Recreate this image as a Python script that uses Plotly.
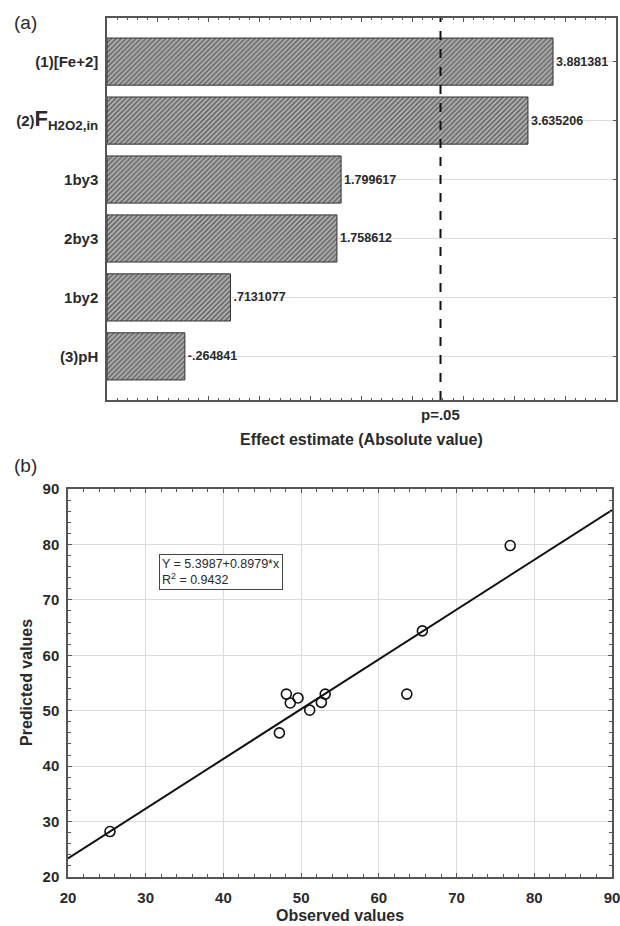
import plotly.graph_objects as go

# ---- Data: (a) Pareto chart of standardized effects ----
effect_labels = [
    "<b>(1)[Fe+2]</b>",
    "<b>(2)<span style='font-size:22px'>F</span><span style='font-size:19px'><sub>H2O2,in</sub></span></b>",
    "<b>1by3</b>",
    "<b>2by3</b>",
    "<b>1by2</b>",
    "<b>(3)pH</b>",
]
effect_values = [3.881381, 3.635206, 1.799617, 1.758612, 0.7131077, -0.264841]
effect_text = ["3.881381", "3.635206", "1.799617", "1.758612", ".7131077", "-.264841"]
p_crit = 2.776
x_min_a, x_max_a = -0.5, 4.5

# ---- Data: (b) observed vs predicted ----
observed = [25.4, 47.2, 48.1, 48.6, 49.6, 51.1, 52.6, 53.1, 63.6, 65.6, 76.9]
predicted = [28.2, 46.0, 53.0, 51.4, 52.3, 50.1, 51.5, 53.0, 53.0, 64.4, 79.8]
fit_intercept, fit_slope = 5.3987, 0.8979
fit_x = [20, 90]

FONT = "Liberation Sans, Arial, sans-serif"
TXT = "#2a2a2a"
AX = "#555555"

fig = go.Figure()

cats = list(range(len(effect_values)))
fig.add_trace(go.Bar(
    y=cats,
    x=[abs(v) - x_min_a for v in effect_values],
    base=x_min_a,
    orientation="h",
    width=0.8,
    marker=dict(
        color="#b0b0b0",
        line=dict(color="#333333", width=1),
        pattern=dict(shape="/", fgcolor="#1e1e1e", bgcolor="#b4b4b4", size=3.5, solidity=0.5),
    ),
    text=effect_text,
    textposition="outside",
    textfont=dict(family=FONT, size=12.5, color=TXT, weight="bold"),
    cliponaxis=False,
    xaxis="x", yaxis="y",
    showlegend=False,
))

fig.add_trace(go.Scatter(
    x=fit_x,
    y=[fit_intercept + fit_slope * v for v in fit_x],
    mode="lines",
    line=dict(color="#111111", width=2),
    xaxis="x2", yaxis="y2",
    showlegend=False,
))
fig.add_trace(go.Scatter(
    x=observed, y=predicted,
    mode="markers",
    marker=dict(symbol="circle-open", size=10, color="#111111", line=dict(width=1.6)),
    xaxis="x2", yaxis="y2",
    showlegend=False,
))

W, H = 620, 926
def px_x(a, b):
    return [a / W, b / W]
def px_y(top, bottom):
    return [1 - bottom / H, 1 - top / H]

fig.update_layout(
    width=W, height=H,
    margin=dict(l=0, r=0, t=0, b=0, autoexpand=False),
    paper_bgcolor="white", plot_bgcolor="white",
    font=dict(family=FONT, color=TXT),
    bargap=0.2,
    xaxis=dict(
        domain=px_x(107, 616), anchor="y", automargin=False,
        range=[x_min_a, x_max_a], showticklabels=False, showgrid=False, zeroline=False,
        showline=True, linecolor=AX, linewidth=1.5, mirror="ticks",
        ticks="inside", dtick=0.5, ticklen=4, tickcolor=AX,
        minor=dict(ticks="inside", dtick=0.1, ticklen=2, tickcolor=AX),
    ),
    yaxis=dict(
        domain=px_y(18, 400), anchor="x", automargin=False,
        range=[5.74, -0.74],
        tickvals=cats, ticktext=effect_labels,
        tickfont=dict(family=FONT, size=15, color=TXT),
        showgrid=True, gridcolor="#dedede", gridwidth=1, zeroline=False,
        showline=True, linecolor=AX, linewidth=1.5, mirror="ticks",
        ticks="inside", ticklen=3, tickcolor=AX,
        ticklabelstandoff=4, ticklabeloverflow="allow",
    ),
    xaxis2=dict(
        domain=px_x(68, 612), anchor="y2", automargin=False,
        range=[20, 90], dtick=10,
        tickfont=dict(family=FONT, size=15, color=TXT, weight="bold"),
        showgrid=True, gridcolor="#dcdcdc", gridwidth=1, zeroline=False,
        showline=True, linecolor=AX, linewidth=1.5, mirror="ticks",
        ticks="inside", ticklen=4, tickcolor=AX,
        minor=dict(ticks="inside", dtick=2, ticklen=3, tickcolor=AX),
        ticklabelstandoff=6, ticklabeloverflow="allow",
    ),
    yaxis2=dict(
        domain=px_y(489, 877), anchor="x2", automargin=False,
        range=[20, 90], dtick=10,
        tickfont=dict(family=FONT, size=15, color=TXT, weight="bold"),
        showgrid=True, gridcolor="#dcdcdc", gridwidth=1, zeroline=False,
        showline=True, linecolor=AX, linewidth=1.5, mirror="ticks",
        ticks="inside", ticklen=4, tickcolor=AX,
        minor=dict(ticks="inside", dtick=2, ticklen=3, tickcolor=AX),
        ticklabelstandoff=4, ticklabeloverflow="allow",
    ),
)

fig.add_shape(type="line", xref="x", yref="y domain",
              x0=p_crit, x1=p_crit, y0=0, y1=1,
              line=dict(color="#111111", width=2, dash="dash"))

ann = []
ann.append(dict(x=p_crit, xref="x", y=1 - 415 / H, yref="paper", yanchor="middle",
                text="<b>p=.05</b>", showarrow=False, font=dict(size=15, color=TXT)))
ann.append(dict(x=(107 + 616) / 2 / W, xref="paper", y=1 - 439 / H, yref="paper", yanchor="middle",
                text="<b>Effect estimate (Absolute value)</b>", showarrow=False,
                font=dict(size=16, color=TXT)))
ann.append(dict(x=12 / W, xref="paper", xanchor="left", y=1 - 22 / H, yref="paper", yanchor="middle",
                text="(a)", showarrow=False, font=dict(size=19, color=TXT)))
ann.append(dict(x=12 / W, xref="paper", xanchor="left", y=1 - 465 / H, yref="paper", yanchor="middle",
                text="(b)", showarrow=False, font=dict(size=19, color=TXT)))
ann.append(dict(x=(68 + 612) / 2 / W, xref="paper", y=1 - 915 / H, yref="paper", yanchor="middle",
                text="<b>Observed values</b>", showarrow=False, font=dict(size=16, color=TXT)))
ann.append(dict(x=26 / W, xref="paper", y=1 - 683 / H, yref="paper", xanchor="center", yanchor="middle",
                text="<b>Predicted values</b>", textangle=-90, showarrow=False,
                font=dict(size=16, color=TXT)))
ann.append(dict(x=31.7, xref="x2", xanchor="left", y=78.2, yref="y2", yanchor="top",
                text="Y = 5.3987+0.8979*x<br>R<sup>2</sup> = 0.9432", align="left",
                showarrow=False, font=dict(size=12.5, color=TXT),
                bordercolor="#444444", borderwidth=1, borderpad=2, bgcolor="white"))
fig.update_layout(annotations=ann)

fig.write_html("out.html")
